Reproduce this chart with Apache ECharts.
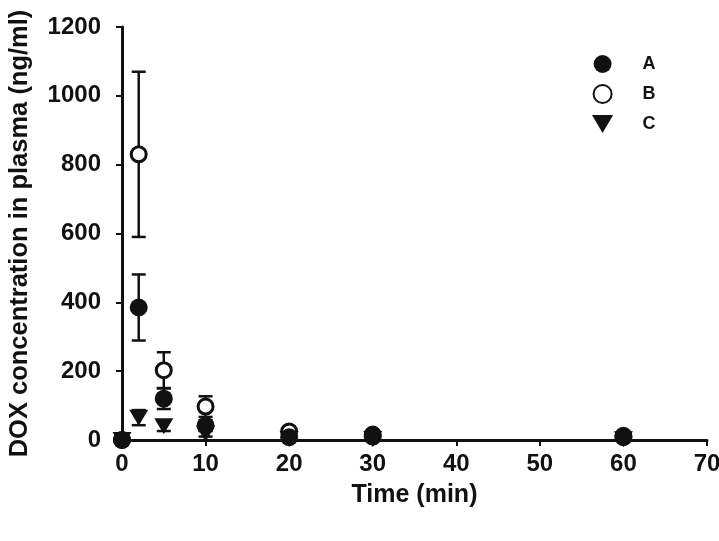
<!DOCTYPE html>
<html>
<head>
<meta charset="utf-8">
<script src="https://cdn.jsdelivr.net/npm/echarts@6/dist/echarts.min.js"></script>
<style>html,body{margin:0;padding:0;background:#fff;}#c{width:719px;height:541px;}</style>
</head>
<body>
<div id="c"></div>
<script>
const times = [0, 2, 5, 10, 20, 30, 60];
const seriesA = [0, 385, 120, 42, 8, 10, 8];
const errA = [0, 96, 30, 15, 3, 3, 2];
const seriesB = [0, 830, 203, 97, 25, 16, 12];
const errB = [0, 240, 52, 30, 5, 4, 3];
const seriesC = [0, 65, 40, 18, 3, 3, 2];
const errC = [0, 22, 14, 8, 1, 1, 1];
const xTicks = [0, 10, 20, 30, 40, 50, 60, 70];
const yTicks = [0, 200, 400, 600, 800, 1000, 1200];
const names = ['A', 'B', 'C'];

const FONT = '"Liberation Sans", Arial, sans-serif';
const chart = echarts.init(document.getElementById('c'), null, {renderer: 'canvas'});

function pts(vals) { return times.map((t, i) => [t, vals[i]]); }
function errData(vals, errs) { return times.map((t, i) => [t, vals[i], errs[i]]); }

function errSeries(vals, errs) {
  return {
    type: 'custom',
    z: 1,
    silent: true,
    data: errData(vals, errs),
    encode: {x: 0, y: 1},
    renderItem: function (params, api) {
      const x = api.value(0), y = api.value(1), e = api.value(2);
      if (e <= 0) return null;
      const top = api.coord([x, y + e]);
      const bot = api.coord([x, y - e]);
      const hw = 7;
      const st = {stroke: '#111', lineWidth: 2.5};
      return {
        type: 'group',
        children: [
          {type: 'line', shape: {x1: top[0], y1: top[1], x2: bot[0], y2: bot[1]}, style: st},
          {type: 'line', shape: {x1: top[0] - hw, y1: top[1], x2: top[0] + hw, y2: top[1]}, style: st},
          {type: 'line', shape: {x1: bot[0] - hw, y1: bot[1], x2: bot[0] + hw, y2: bot[1]}, style: st}
        ]
      };
    }
  };
}

const triDown = 'path://M0,0L10,0L5,8.5Z';

chart.setOption({
  animation: false,
  backgroundColor: '#fff',
  grid: {left: 122, right: 12, top: 27, bottom: 101, containLabel: false, outerBoundsMode: 'none'},
  legend: {
    orient: 'vertical',
    left: 587,
    top: 50,
    itemWidth: 70,
    itemHeight: 18,
    itemGap: 11,
    data: names,
    textStyle: {fontFamily: FONT, fontWeight: 'bold', fontSize: 18, color: '#111'}
  },
  xAxis: {
    type: 'value',
    min: 0, max: 70, interval: 10,
    name: 'Time (min)',
    nameLocation: 'middle',
    nameGap: 43,
    nameTextStyle: {fontFamily: FONT, fontWeight: 'bold', fontSize: 25, color: '#111'},
    axisLine: {show: true, onZero: false, lineStyle: {color: '#111', width: 3}},
    axisTick: {show: true, inside: false, length: 6, lineStyle: {color: '#111', width: 2}},
    axisLabel: {fontFamily: FONT, fontWeight: 'bold', fontSize: 24, color: '#111', margin: 12},
    splitLine: {show: false}
  },
  yAxis: {
    type: 'value',
    min: 0, max: 1200, interval: 200,
    name: 'DOX concentration in plasma (ng/ml)',
    nameLocation: 'middle',
    nameGap: 89,
    nameTextStyle: {fontFamily: FONT, fontWeight: 'bold', fontSize: 25.5, color: '#111'},
    axisLine: {show: true, onZero: false, lineStyle: {color: '#111', width: 3}},
    axisTick: {show: true, inside: false, length: 6, lineStyle: {color: '#111', width: 2}},
    axisLabel: {fontFamily: FONT, fontWeight: 'bold', fontSize: 24, color: '#111', margin: 21,
      formatter: function (v) { return String(v); }},
    splitLine: {show: false}
  },
  series: [
    errSeries(seriesC, errC),
    errSeries(seriesB, errB),
    errSeries(seriesA, errA),
    {
      name: 'C', type: 'scatter', z: 2,
      data: pts(seriesC),
      symbol: triDown, symbolSize: [19, 16],
      itemStyle: {color: '#111', opacity: 1}
    },
    {
      name: 'B', type: 'scatter', z: 3,
      data: pts(seriesB),
      symbol: 'circle', symbolSize: 15,
      itemStyle: {color: '#fff', borderColor: '#111', borderWidth: 3, opacity: 1}
    },
    {
      name: 'A', type: 'scatter', z: 4,
      data: pts(seriesA),
      symbol: 'circle', symbolSize: 18,
      itemStyle: {color: '#111', opacity: 1}
    }
  ]
});
</script>
</body>
</html>
